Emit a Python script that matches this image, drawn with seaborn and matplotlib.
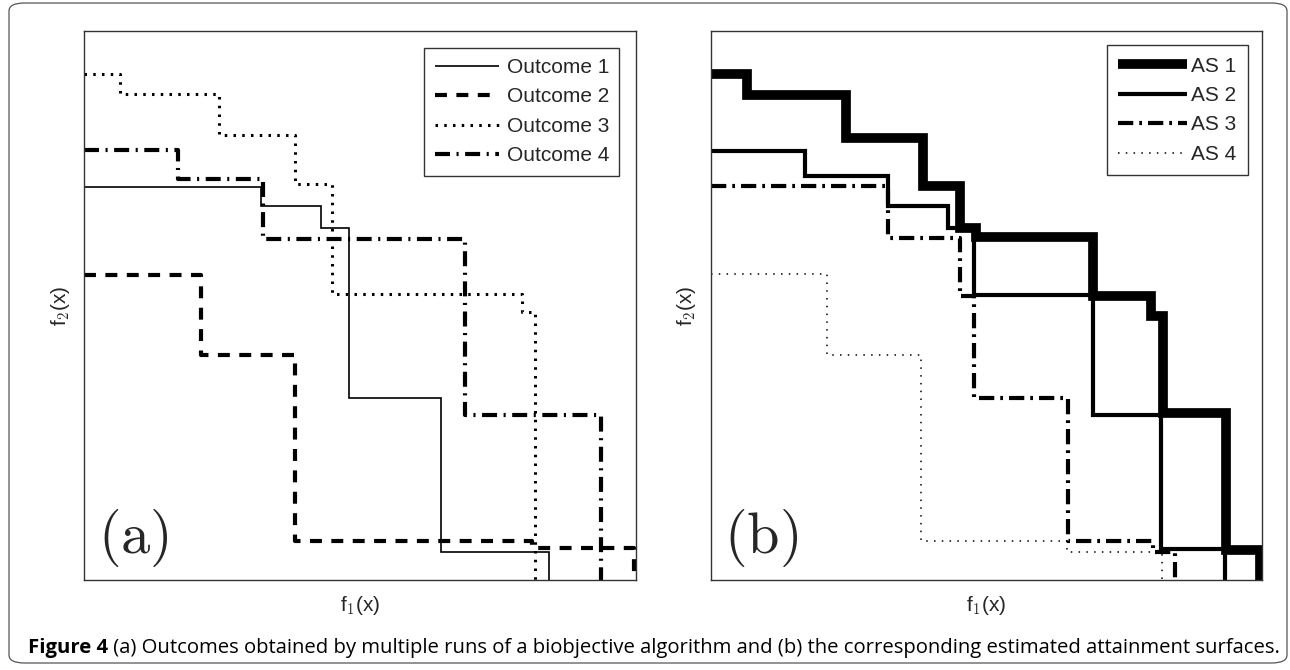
import matplotlib
matplotlib.use("Agg")
import matplotlib.pyplot as plt
import seaborn as sns
from matplotlib.patches import FancyBboxPatch
from matplotlib.lines import Line2D

sns.set_theme(style="white")
plt.rcParams['font.family'] = ['Liberation Sans', 'DejaVu Sans']
plt.rcParams['lines.scale_dashes'] = False
plt.rcParams['mathtext.fontset'] = 'cm'

# ---------------- data (corner points of each step front) ----------------
# panel (a): outcomes of individual runs
out1_x = [32.1, 42.9, 48.0, 64.7, 84.2]
out1_y = [71.5, 68.1, 64.2, 33.2, 5.1]
out2_x = [21.2, 38.2, 81.2, 99.6]
out2_y = [55.5, 41.0, 7.1, 5.8]
out3_x = [6.5, 24.5, 38.2, 44.9, 79.3, 81.7]
out3_y = [92.2, 88.6, 81.1, 72.2, 52.1, 48.8]
out4_x = [17.0, 32.4, 69.0, 93.7]
out4_y = [78.4, 73.1, 62.1, 30.1]

# panel (b): estimated attainment surfaces
as1_x = [6.6, 24.6, 38.5, 45.2, 48.1, 69.3, 79.9, 82.0, 93.5, 99.6]
as1_y = [92.2, 88.4, 80.6, 71.7, 64.2, 62.4, 51.7, 48.1, 30.5, 5.4]
as2_x = [17.1, 32.2, 43.0, 47.8, 69.3, 81.7, 93.3]
as2_y = [78.2, 73.5, 68.2, 64.2, 51.9, 30.1, 5.6]
as3_x = [32.2, 45.2, 47.8, 64.8, 80.2, 84.2]
as3_y = [71.7, 62.3, 51.7, 33.2, 7.1, 5.1]
as4_x = [21.1, 38.2, 64.6, 81.9]
as4_y = [55.7, 41.0, 7.1, 5.1]

labels_a = ["Outcome 1", "Outcome 2", "Outcome 3", "Outcome 4"]
labels_b = ["AS 1", "AS 2", "AS 3", "AS 4"]
xlabel = "f$_1$(x)"
ylabel = "f$_2$(x)"
caption_bold = "Figure 4"
caption_rest = " (a) Outcomes obtained by multiple runs of a biobjective algorithm and (b) the corresponding estimated attainment surfaces."

# ---------------- styles ----------------
styles_a = [
    dict(lw=1.2, ls='-'),
    dict(lw=3.0, ls=(0, (8.6, 6.8))),
    dict(lw=2.2, ls=(0, (1.8, 4.5))),
    dict(lw=3.0, ls=(0, (10.8, 4.7, 1.5, 4.7))),
]
styles_b = [
    dict(lw=7.0, ls='-'),
    dict(lw=3.0, ls='-'),
    dict(lw=3.0, ls=(0, (11, 4.3, 2, 4.3))),
    dict(lw=1.1, ls=(0, (1.1, 4.5))),
]

label_family = ['Liberation Sans', 'DejaVu Sans']

W, H = 1290, 670
fig = plt.figure(figsize=(W / 100, H / 100), dpi=100)

# outer rounded frame
frame = FancyBboxPatch((9 / W, 7 / H), (1287 - 9) / W, (667 - 7) / H,
                       boxstyle="round,pad=0,rounding_size=0.012",
                       transform=fig.transFigure, fill=False,
                       edgecolor="#555555", linewidth=0.9)
fig.patches.append(frame)

ax_a = fig.add_axes([84 / W, (H - 580) / H, 552 / W, 549 / H])
ax_b = fig.add_axes([710.5 / W, (H - 580) / H, 551.5 / W, 549 / H])


def draw(ax, xs, ys, st, label):
    px = [0.0] + list(xs)
    py = list(ys) + [0.0]
    sns.lineplot(x=px, y=py, ax=ax, color="black", linewidth=st['lw'],
                 linestyle=st['ls'], drawstyle='steps-post', sort=False,
                 estimator=None, label=label, legend=False,
                 dash_capstyle='butt', solid_capstyle='butt', solid_joinstyle='miter')


for xs, ys, st, lab in zip([out1_x, out2_x, out3_x, out4_x],
                           [out1_y, out2_y, out3_y, out4_y], styles_a, labels_a):
    draw(ax_a, xs, ys, st, lab)
for xs, ys, st, lab in zip([as1_x, as2_x, as3_x, as4_x],
                           [as1_y, as2_y, as3_y, as4_y], styles_b, labels_b):
    draw(ax_b, xs, ys, st, lab)

leg_params = {
    "a": dict(handlelength=3.1, handletextpad=0.35, borderaxespad=0.8, borderpad=0.5),
    "b": dict(handlelength=3.3, handletextpad=0.2, borderaxespad=0.68, borderpad=0.55),
}

for ax, styles, labels, tag in [(ax_a, styles_a, labels_a, "a"), (ax_b, styles_b, labels_b, "b")]:
    ax.set_xlim(0, 100)
    ax.set_ylim(0, 100)
    ax.set_xticks([])
    ax.set_yticks([])
    ax.set_xlabel(xlabel, fontsize=15, labelpad=10, family=label_family)
    ax.set_ylabel(ylabel, fontsize=15, labelpad=9, family=label_family)
    for sp in ax.spines.values():
        sp.set_color("#333333")
        sp.set_linewidth(1.0)
        sp.set_visible(True)
    handles = [Line2D([], [], color="black", linewidth=s['lw'], linestyle=s['ls'],
                      dash_capstyle='butt', solid_capstyle='butt') for s in styles]
    leg = ax.legend(handles, labels, loc="upper right",
                    prop={'family': label_family, 'size': 15},
                    labelspacing=0.5, frameon=True, fancybox=False,
                    edgecolor="#333333", framealpha=1, **leg_params[tag])
    leg.get_frame().set_linewidth(1.0)
    ax.text(0.025, 0.02, r"$(\mathrm{%s})$" % tag, transform=ax.transAxes,
            fontsize=42, ha="left", va="bottom")

# caption, fitted to the width of the reference line
cap_family = ['Open Sans', 'Liberation Sans', 'DejaVu Sans']
x0, x_end, yc = 28, 1276, 648
fig.canvas.draw()
r = fig.canvas.get_renderer()


def caption(size):
    t1 = fig.text(x0 / W, (H - yc) / H, caption_bold, fontsize=size, fontweight="bold",
                  family=cap_family, va="center", ha="left", color="black")
    bb = t1.get_window_extent(r)
    t2 = fig.text(bb.x1 / W, (H - yc) / H, caption_rest, fontsize=size,
                  family=cap_family, va="center", ha="left", color="black")
    return t1, t2, t2.get_window_extent(r).x1


s0 = 12.0
t1, t2, xe = caption(s0)
t1.remove()
t2.remove()
s = s0 * (x_end - x0) / (xe - x0)
caption(s)

fig.savefig("out.png", dpi=100)
